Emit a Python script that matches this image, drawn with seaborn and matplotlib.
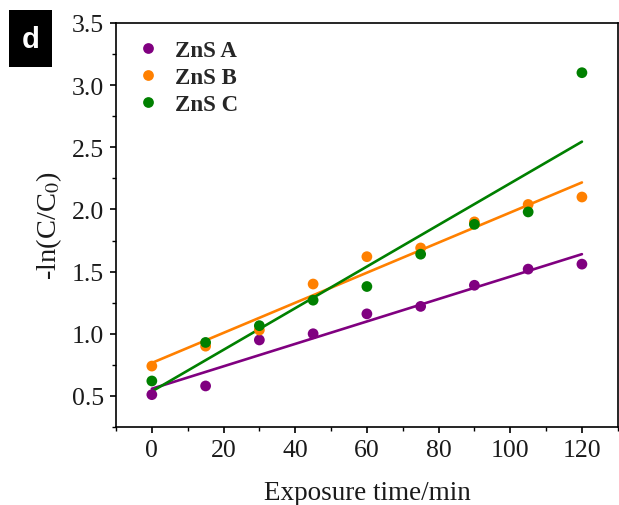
import numpy as np
import pandas as pd
import matplotlib
matplotlib.use("Agg")
import matplotlib.pyplot as plt
import seaborn as sns
from matplotlib.patches import Rectangle
from matplotlib.ticker import FixedLocator

time_min = [0, 15, 30, 45, 60, 75, 90, 105, 120]
zns_a = [0.51, 0.58, 0.95, 1.00, 1.16, 1.22, 1.39, 1.52, 1.56]
zns_b = [0.74, 0.90, 1.03, 1.40, 1.62, 1.69, 1.90, 2.04, 2.10]
zns_c = [0.62, 0.93, 1.065, 1.27, 1.38, 1.64, 1.88, 1.98, 3.10]
series_names = ["ZnS A", "ZnS B", "ZnS C"]
colors = ["#800080", "#FF8000", "#008000"]
x_ticks = [0, 20, 40, 60, 80, 100, 120]
y_ticks = [0.5, 1.0, 1.5, 2.0, 2.5, 3.0, 3.5]

df = pd.DataFrame({
    "t": time_min * 3,
    "v": zns_a + zns_b + zns_c,
    "s": [n for n in series_names for _ in time_min],
})

sns.set_style("ticks")
plt.rcParams["font.family"] = ["Liberation Serif", "DejaVu Serif"]
plt.rcParams["mathtext.fontset"] = "stix"

fig = plt.figure(figsize=(6.19, 5.06), dpi=100)
ax = fig.add_axes([0.1874, 0.1542, 0.8106, 0.7984])

palette = dict(zip(series_names, colors))
for name in series_names:
    sub = df[df["s"] == name]
    sns.regplot(data=sub, x="t", y="v", scatter=False, ci=None, ax=ax,
                color=palette[name], line_kws={"lw": 1.9})
sns.scatterplot(data=df, x="t", y="v", hue="s", palette=palette, ax=ax,
                s=60, edgecolor="none", zorder=3)

ax.set_xlim(-10, 130)
ax.set_ylim(0.25, 3.5)
ax.xaxis.set_major_locator(FixedLocator(x_ticks))
ax.xaxis.set_minor_locator(FixedLocator([-10, 10, 30, 50, 70, 90, 110, 130]))
ax.yaxis.set_major_locator(FixedLocator(y_ticks))
ax.yaxis.set_minor_locator(FixedLocator([0.25, 0.75, 1.25, 1.75, 2.25, 2.75, 3.25]))
ax.set_xticklabels([str(v) for v in x_ticks])
ax.set_yticklabels([f"{v:.1f}" for v in y_ticks])
ax.tick_params(axis="both", which="major", direction="out", length=4.5, width=1.2,
               labelsize=18.5, colors="black", labelcolor="#1a1a1a", pad=4)
ax.tick_params(axis="both", which="minor", direction="out", length=2.8, width=1.0,
               colors="black")
ax.tick_params(top=False, right=False)
for sp in ax.spines.values():
    sp.set_visible(True)
    sp.set_linewidth(1.2)
    sp.set_color("black")

ax.set_xlabel("Exposure time/min", fontsize=19.5, color="#1a1a1a", labelpad=14)
ax.set_ylabel("-ln(C/C$_0$)", fontsize=20.5, color="#1a1a1a", labelpad=6)

leg = ax.legend(loc="upper left", frameon=False, bbox_to_anchor=(0.008, 0.997),
                prop={"family": ["Liberation Serif"], "weight": "bold", "size": 16.5},
                handlelength=1.0, handletextpad=0.7, labelspacing=0.25,
                borderaxespad=0.3, markerscale=1.0)

fig.add_artist(Rectangle((9 / 619, 1 - 68 / 506), 43 / 619, 57 / 506,
                         transform=fig.transFigure, facecolor="black",
                         edgecolor="none"))
fig.text(30.5 / 619, 1 - 39.5 / 506, "d", color="white", fontsize=21,
         fontweight="bold", family=["Liberation Sans"], ha="center", va="center")

fig.savefig("out.png", dpi=100)
